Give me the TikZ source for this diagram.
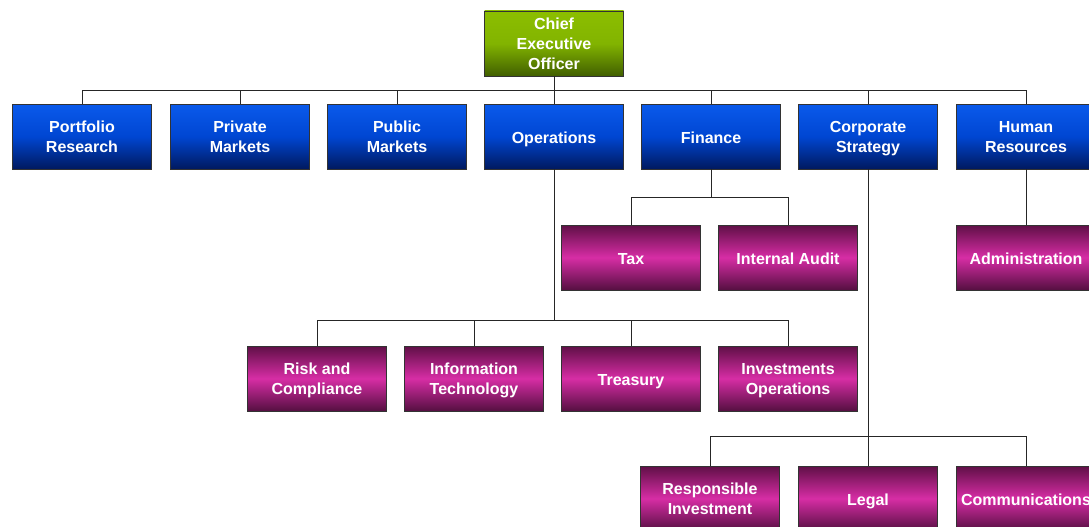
\documentclass[tikz,border=0pt]{standalone}
\usepackage{fontspec}
\setmainfont{Liberation Sans}
\begin{document}
\begin{tikzpicture}[x=1pt,y=-1pt,
  box/.style={draw=black!80, line width=0.6pt, minimum width=139pt, minimum height=65pt,
    inner sep=1pt, align=center, text=white,
    font=\fontsize{16}{20}\selectfont\bfseries},
  oneline/.style={execute at begin node={\rule{0pt}{19pt}}, execute at end node=\strut},
  multiline/.style={execute at end node=\strut, text depth=0pt},
  bluebox/.style={box, top color={rgb,255:red,10;green,90;blue,235},
    bottom color={rgb,255:red,0;green,25;blue,95}, middle color={rgb,255:red,0;green,70;blue,210}},
  pinkbox/.style={box, top color={rgb,255:red,95;green,15;blue,70},
    bottom color={rgb,255:red,85;green,15;blue,65}, middle color={rgb,255:red,215;green,45;blue,165}},
  greenbox/.style={box, top color={rgb,255:red,140;green,190;blue,0},
    bottom color={rgb,255:red,65;green,95;blue,0}, middle color={rgb,255:red,130;green,180;blue,0}},
  link/.style={draw=black!85, line width=0.6pt}]
\useasboundingbox (0,0) rectangle (1089,527);
\clip (0,0) rectangle (1089,527);
\fill[white] (0,0) rectangle (1089,527);

% top level
\node[greenbox,multiline] (ceo) at (554,43.5) {Chief\\Executive\\Officer};

% first level
\node[bluebox,multiline] (pr)  at (82,136.5)  {Portfolio\\Research};
\node[bluebox,multiline] (pm)  at (240,136.5) {Private\\Markets};
\node[bluebox,multiline] (pub) at (397,136.5) {Public\\Markets};
\node[bluebox,oneline]   (ops) at (554,136.5) {Operations};
\node[bluebox,oneline]   (fin) at (711,136.5) {Finance};
\node[bluebox,multiline] (cs)  at (868,136.5) {Corporate\\Strategy};
\node[bluebox,multiline] (hr)  at (1026,136.5) {Human\\Resources};

% finance and HR units
\node[pinkbox,oneline] (tax) at (631,257.5) {Tax};
\node[pinkbox,oneline] (ia)  at (788,257.5) {Internal Audit};
\node[pinkbox,oneline] (adm) at (1026,257.5) {Administration};

% operations units
\node[pinkbox,multiline] (risk) at (317,378.5) {Risk and\\Compliance};
\node[pinkbox,multiline] (it)   at (474,378.5) {Information\\Technology};
\node[pinkbox,oneline]   (tre)  at (631,378.5) {Treasury};
\node[pinkbox,multiline] (io)   at (788,378.5) {Investments\\Operations};

% corporate strategy units
\node[pinkbox,multiline] (ri)  at (710,498.5) {Responsible\\Investment};
\node[pinkbox,oneline]   (leg) at (868,498.5) {Legal};
\node[pinkbox,oneline]   (com) at (1026,498.5) {Communications};

% connectors: CEO bus
\draw[link] (ceo.south) -- ++(0,14) -| (pr.north);
\draw[link] (ceo.south) -- ++(0,14) -| (hr.north);
\foreach \c in {pm,pub,ops,fin,cs}
  \draw[link] (\c.north |- 0,90) -- (\c.north);

% finance and HR
\draw[link] (fin.south) -- ++(0,28) -| (tax.north);
\draw[link] (fin.south) -- ++(0,28) -| (ia.north);
\draw[link] (hr.south) -- (adm.north);

% operations
\draw[link] (ops.south) -- ++(0,151) -| (risk.north);
\draw[link] (ops.south) -- ++(0,151) -| (io.north);
\draw[link] (it.north |- 0,320) -- (it.north);
\draw[link] (tre.north |- 0,320) -- (tre.north);

% corporate strategy
\draw[link] (cs.south) -- ++(0,267) -| (ri.north);
\draw[link] (cs.south) -- ++(0,267) -| (com.north);
\draw[link] (leg.north |- 0,436) -- (leg.north);
\end{tikzpicture}
\end{document}
